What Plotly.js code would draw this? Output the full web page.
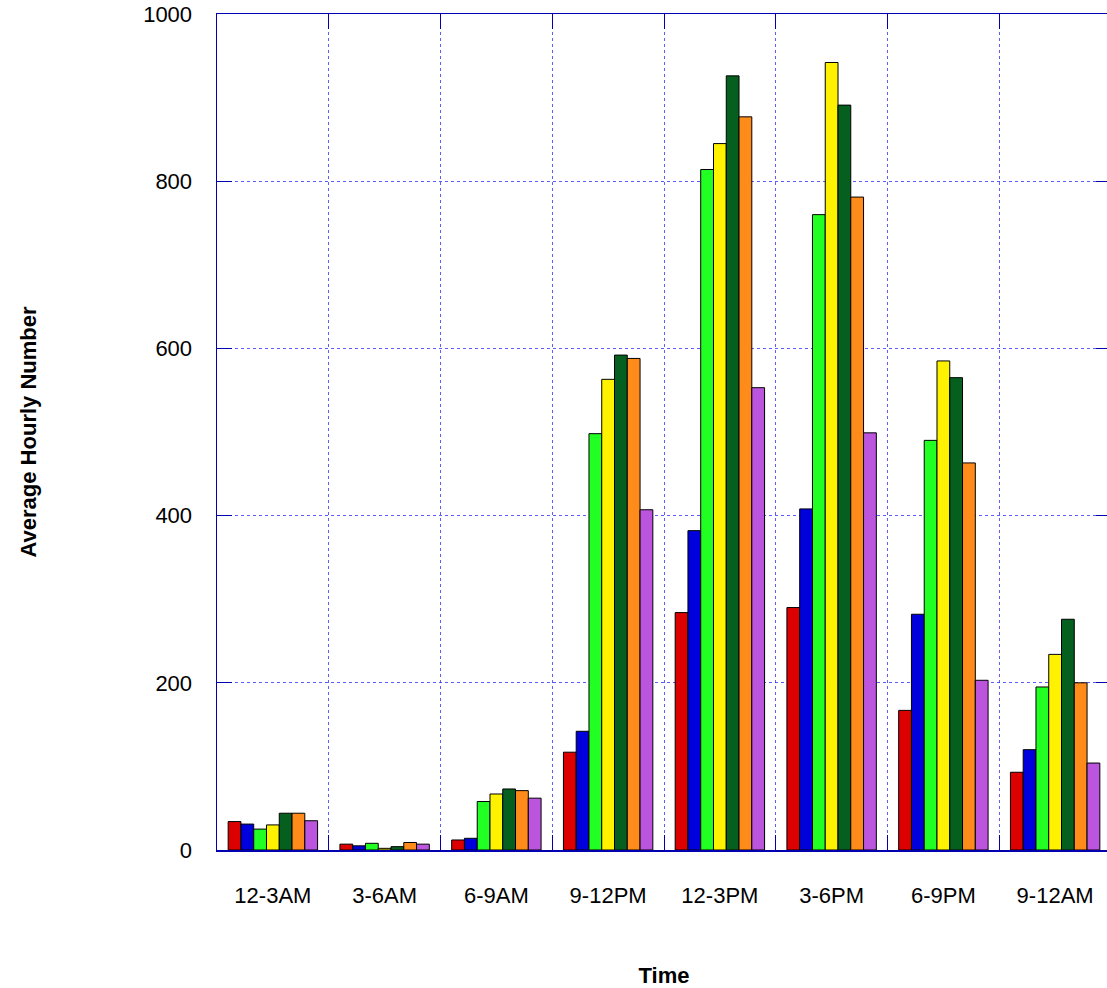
<!DOCTYPE html>
<html>
<head>
<meta charset="utf-8">
<script src="https://cdn.plot.ly/plotly-3.0.1.min.js"></script>
<style>
html, body { margin: 0; padding: 0; overflow: hidden; background: #fff; }
#chart { width: 1111px; height: 988px; }
</style>
</head>
<body>
<div id="chart"></div>
<script>
const categories = ["12-3AM", "3-6AM", "6-9AM", "9-12PM", "12-3PM", "3-6PM", "6-9PM", "9-12AM"];
const seriesNames = ["Series 1", "Series 2", "Series 3", "Series 4", "Series 5", "Series 6", "Series 7"];
const series1 = [34, 7, 12, 117, 284, 290, 167, 93];
const series2 = [31, 5, 14, 142, 382, 408, 282, 120];
const series3 = [25, 8, 58, 498, 814, 760, 490, 195];
const series4 = [30, 2, 67, 563, 845, 942, 585, 234];
const series5 = [44, 4, 73, 592, 926, 891, 565, 276];
const series6 = [44, 9, 71, 588, 877, 781, 463, 200];
const series7 = [35, 7, 62, 407, 553, 499, 203, 104];
const yTickValues = [0, 200, 400, 600, 800, 1000];

const allSeries = [series1, series2, series3, series4, series5, series6, series7];
const colors = ["#dd0000", "#0000dd", "#22ff22", "#fff200", "#056020", "#ff8c1a", "#bb55dd"];

const traces = allSeries.map((vals, i) => ({
  type: "bar",
  name: seriesNames[i],
  x: categories,
  y: vals,
  marker: { color: colors[i], line: { color: "#000000", width: 1 } }
}));

const axisColor = "#0000b0";
const gridColor = "rgba(40,40,255,0.75)";

const layout = {
  width: 1111,
  height: 988,
  margin: { l: 217, r: 0, t: 14, b: 138 },
  paper_bgcolor: "#ffffff",
  plot_bgcolor: "#ffffff",
  barmode: "group",
  bargap: 0.2,
  bargroupgap: 0,
  showlegend: false,
  font: { family: "Liberation Sans, Arial, sans-serif", size: 22, color: "#000" },
  xaxis: {
    type: "category",
    range: [-0.5, 7.5],
    tickson: "boundaries",
    ticks: "inside",
    ticklen: 15,
    tickcolor: axisColor,
    showgrid: true,
    gridcolor: gridColor,
    griddash: "dot",
    gridwidth: 1,
    showline: true,
    linecolor: axisColor,
    linewidth: 1.5,
    mirror: "ticks",
    ticklabelstandoff: 25,
    tickfont: { size: 22, color: "#000" },
    title: { text: "<b>Time</b>", font: { size: 22, color: "#000" }, standoff: 65 }
  },
  yaxis: {
    range: [0, 1000],
    tickvals: yTickValues,
    ticktext: yTickValues.map(String),
    ticks: "inside",
    ticklen: 15,
    tickcolor: axisColor,
    showgrid: true,
    gridcolor: gridColor,
    griddash: "dot",
    gridwidth: 1,
    zeroline: false,
    showline: true,
    linecolor: axisColor,
    linewidth: 1.5,
    mirror: "ticks",
    ticklabelstandoff: 19,
    tickfont: { size: 22, color: "#000" },
    title: { text: "<b>Average Hourly Number</b>", font: { size: 22, color: "#000" }, standoff: 100 }
  }
};

Plotly.newPlot("chart", traces, layout, { staticPlot: true, displayModeBar: false });
</script>
</body>
</html>
